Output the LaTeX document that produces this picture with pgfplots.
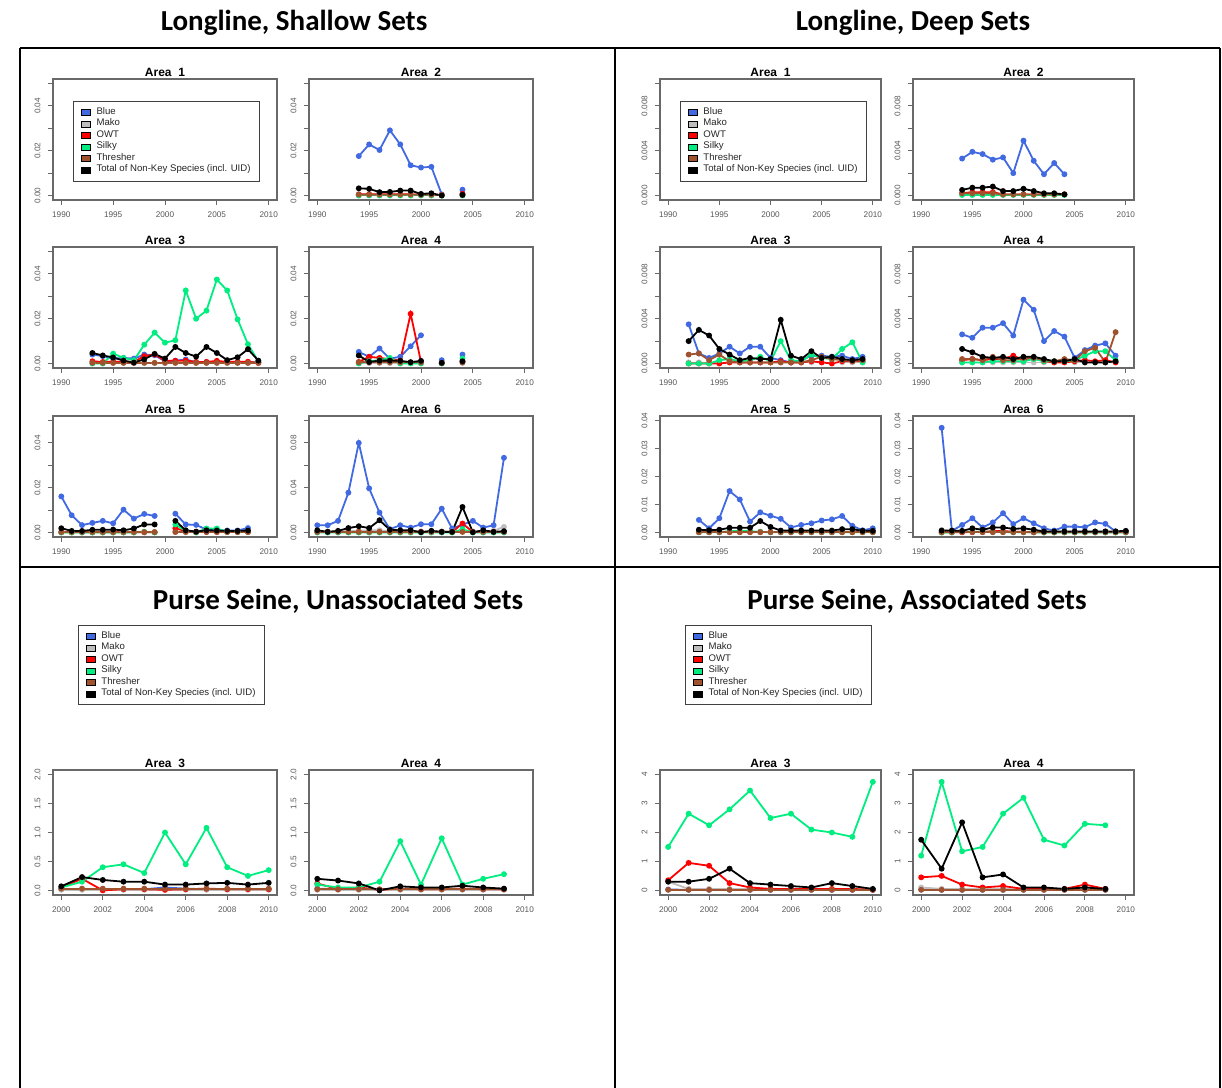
\documentclass[border=0pt]{standalone}
\usepackage{pgfplots}
\pgfplotsset{compat=1.18}
\usepackage{fontspec}
\setmainfont{Liberation Sans}
\newfontfamily\hdrfont{Carlito}
\definecolor{cBlue}{RGB}{65,105,225}
\definecolor{cMako}{RGB}{190,190,190}
\definecolor{cOWT}{RGB}{255,0,0}
\definecolor{cSilky}{RGB}{0,238,128}
\definecolor{cThr}{RGB}{160,82,45}
\definecolor{axc}{RGB}{105,105,105}
\def\u{0.5pt}
\pgfplotsset{
  rplot/.style={
    scale only axis, anchor=north west,
    width=112pt, height=60.5pt,
    axis line style={draw=axc, line width=0.8pt},
    every tick/.style={draw=axc, line width=0.45pt},
    tick align=outside, major tick length=2.5pt, tick pos=left,
    ticklabel style={font=\fontsize{4.1}{4.5}\selectfont, text=black!65},
    yticklabel style={xshift=-2.6pt, rotate=90, anchor=south, inner sep=1pt},
    xticklabel style={inner sep=1pt, yshift=-2.1pt},
    title style={at={(0.5,1)}, anchor=base, yshift=-4.6pt, inner sep=0pt, font=\bfseries\fontsize{6}{7}\selectfont},
    scaled ticks=false,
    unbounded coords=jump,
    every axis plot/.append style={line width=0.9pt, mark=*, mark size=1pt},
  },
  yrs/.style={xmin=1989.2, xmax=2010.8, xtick={1990,1995,2000,2005,2010}, xticklabels={1990,1995,2000,2005,2010}},
  ps/.style={xmin=1999.6, xmax=2010.4, xtick={2000,2002,2004,2006,2008,2010}, xticklabels={2000,2002,2004,2006,2008,2010}},
  yA/.style={ymin=-0.002, ymax=0.052, ytick={0,0.01,0.02,0.03,0.04,0.05}, yticklabels={0.00,{},0.02,{},0.04,{}}},
  yB/.style={ymin=-0.004, ymax=0.104, ytick={0,0.02,0.04,0.06,0.08,0.10}, yticklabels={0.00,{},0.04,{},0.08,{}}},
  yC/.style={ymin=-0.0004, ymax=0.0104, ytick={0,0.002,0.004,0.006,0.008,0.010}, yticklabels={0.000,{},0.004,{},0.008,{}}},
  yD/.style={ymin=-0.0016, ymax=0.0416, ytick={0,0.01,0.02,0.03,0.04}, yticklabels={0.00,0.01,0.02,0.03,0.04}},
  yE/.style={ymin=-0.08, ymax=2.08, ytick={0,0.5,1,1.5,2}, yticklabels={0.0,0.5,1.0,1.5,2.0}},
  yF/.style={ymin=-0.16, ymax=4.16, ytick={0,1,2,3,4}, yticklabels={0,1,2,3,4}},
  sB/.style={color=cBlue}, sM/.style={color=cMako}, sO/.style={color=cOWT},
  sS/.style={color=cSilky}, sT/.style={color=cThr}, sK/.style={color=black},
  rleg/.style={legend cell align=left,
    legend style={draw=black!75, line width=0.4pt, fill=white, font=\fontsize{4.8}{5}\selectfont,
      anchor=north west, inner xsep=4pt, inner ysep=2.6pt, row sep=0pt, column sep=2.6pt,
      nodes={inner sep=0.4pt, text=black!85}},
    legend image code/.code={\draw[#1, draw=black, line width=0.3pt] (2pt,-1.5pt) rectangle (6.3pt,1.5pt);},
  },
}
\newcommand{\legendentries}{%
  \addlegendimage{fill=cBlue}\addlegendentry{Blue}
  \addlegendimage{fill=cMako}\addlegendentry{Mako}
  \addlegendimage{fill=cOWT}\addlegendentry{OWT}
  \addlegendimage{fill=cSilky}\addlegendentry{Silky}
  \addlegendimage{fill=cThr}\addlegendentry{Thresher}
  \addlegendimage{fill=black}\addlegendentry{Total of Non-Key Species (incl. UID)}}
\begin{document}
\begin{tikzpicture}
\useasboundingbox (0,0) rectangle (611pt,-544pt);
% table
\draw[line width=1pt] (20*\u,-48*\u) -- (1220*\u,-48*\u);
\draw[line width=1pt] (20*\u,-567*\u) -- (1220*\u,-567*\u);
\draw[line width=1pt] (20*\u,-48*\u) -- (20*\u,-1088*\u);
\draw[line width=1pt] (615*\u,-48*\u) -- (615*\u,-1088*\u);
\draw[line width=1pt] (1220*\u,-48*\u) -- (1220*\u,-1088*\u);
\node[anchor=base, font=\hdrfont\bfseries\fontsize{14.5}{16}\selectfont, inner sep=0pt] at (294*\u,-30*\u) {Longline, Shallow Sets};
\node[anchor=base, font=\hdrfont\bfseries\fontsize{14.5}{16}\selectfont, inner sep=0pt] at (913*\u,-30*\u) {Longline, Deep Sets};
\node[anchor=base, font=\hdrfont\bfseries\fontsize{14.5}{16}\selectfont, inner sep=0pt] at (338*\u,-609*\u) {Purse Seine, Unassociated Sets};
\node[anchor=base, font=\hdrfont\bfseries\fontsize{14.5}{16}\selectfont, inner sep=0pt] at (917*\u,-609*\u) {Purse Seine, Associated Sets};

%================ Longline shallow ================
\begin{axis}[rplot, yrs, yA, at={(53*\u,-79*\u)}, title={Area\ \ 1}, rleg,
  legend style={at={(0.089,0.818)}}]
\legendentries
\end{axis}

\begin{axis}[rplot, yrs, yA, at={(309*\u,-79*\u)}, title={Area\ \ 2}]
\addplot[sB] coordinates {(1994,0.0176)(1995,0.0228)(1996,0.0203)(1997,0.0291)(1998,0.0228)(1999,0.0135)(2000,0.0125)(2001,0.0128)(2002,0.0005)(2003,nan)(2004,0.0026)};
\addplot[sM] coordinates {(1994,0.0002)(1995,0.0002)(1996,0.0002)(1997,0.0002)(1998,0.0002)(1999,0.0002)(2000,0.0002)(2001,0.0002)(2002,0.0001)(2003,nan)(2004,0.0002)};
\addplot[sO] coordinates {(1994,0.0005)(1995,0.0006)(1996,0.0005)(1997,0.0005)(1998,0.0006)(1999,0.0005)(2000,0.0004)(2001,0.0004)(2002,0.0002)(2003,nan)(2004,0.0008)};
\addplot[sS] coordinates {(1994,0)(1995,0)(1996,0)(1997,0)(1998,0)(1999,0)(2000,0)(2001,0)(2002,0)(2003,nan)(2004,0)};
\addplot[sT] coordinates {(1994,0.0004)(1995,0.0004)(1996,0.0004)(1997,0.0004)(1998,0.0004)(1999,0.0004)(2000,0.0003)(2001,0.0003)(2002,0.0002)(2003,nan)(2004,0.0003)};
\addplot[sK] coordinates {(1994,0.0032)(1995,0.0030)(1996,0.0015)(1997,0.0016)(1998,0.0022)(1999,0.0022)(2000,0.0007)(2001,0.0010)(2002,0.0000)(2003,nan)(2004,0.0003)};
\end{axis}

\begin{axis}[rplot, yrs, yA, at={(53*\u,-247*\u)}, title={Area\ \ 3}]
\addplot[sB] coordinates {(1993,0.0040)(1994,0.0033)(1995,0.0022)(1996,0.0025)(1997,0.0022)(1998,0.0040)(1999,0.0037)(2000,0.0010)(2001,0.0013)(2002,0.0018)(2003,0.0006)(2004,0.0007)(2005,0.0007)(2006,0.0005)(2007,0.0005)(2008,0.0005)(2009,0.0005)};
\addplot[sM] coordinates {(1993,0.0002)(1994,0.0002)(1995,0.0002)(1996,0.0002)(1997,0.0002)(1998,0.0002)(1999,0.0002)(2000,0.0002)(2001,0.0002)(2002,0.0002)(2003,0.0002)(2004,0.0002)(2005,0.0002)(2006,0.0002)(2007,0.0002)(2008,0.0002)(2009,0.0002)};
\addplot[sO] coordinates {(1993,0.0010)(1994,0.0007)(1995,0.0008)(1996,0.0007)(1997,0.0008)(1998,0.0033)(1999,0.0040)(2000,0.0013)(2001,0.0012)(2002,0.0013)(2003,0.0007)(2004,0.0007)(2005,0.0012)(2006,0.0007)(2007,0.0008)(2008,0.0008)(2009,0.0003)};
\addplot[sS] coordinates {(1993,0)(1994,0)(1995,0.0044)(1996,0.0025)(1997,0.0015)(1998,0.0084)(1999,0.0138)(2000,0.0093)(2001,0.0104)(2002,0.0326)(2003,0.0200)(2004,0.0236)(2005,0.0375)(2006,0.0326)(2007,0.0197)(2008,0.0086)(2009,0.0010)};
\addplot[sT] coordinates {(1993,0.0003)(1994,0.0003)(1995,0.0003)(1996,0.0003)(1997,0.0003)(1998,0.0003)(1999,0.0003)(2000,0.0003)(2001,0.0003)(2002,0.0003)(2003,0.0003)(2004,0.0003)(2005,0.0003)(2006,0.0003)(2007,0.0003)(2008,0.0003)(2009,0.0003)};
\addplot[sK] coordinates {(1993,0.0047)(1994,0.0036)(1995,0.0027)(1996,0.0013)(1997,0.0004)(1998,0.0019)(1999,0.0043)(2000,0.0022)(2001,0.0074)(2002,0.0047)(2003,0.0031)(2004,0.0074)(2005,0.0047)(2006,0.0015)(2007,0.0028)(2008,0.0064)(2009,0.0013)};
\end{axis}

\begin{axis}[rplot, yrs, yA, at={(309*\u,-247*\u)}, title={Area\ \ 4}]
\addplot[sB] coordinates {(1994,0.0052)(1995,0.0030)(1996,0.0067)(1997,0.0022)(1998,0.0030)(1999,0.0077)(2000,0.0126)(2001,nan)(2002,0.0015)(2003,nan)(2004,0.0040)};
\addplot[sM] coordinates {(1994,0.0002)(1995,0.0002)(1996,0.0002)(1997,0.0002)(1998,0.0002)(1999,0.0002)(2000,0.0002)(2001,nan)(2002,0.0001)(2003,nan)(2004,0.0002)};
\addplot[sO] coordinates {(1994,0.0007)(1995,0.0030)(1996,0.0025)(1997,0.0019)(1998,0.0013)(1999,0.0222)(2000,0.0007)(2001,nan)(2002,0.0002)(2003,nan)(2004,0.0010)};
\addplot[sS] coordinates {(1994,0)(1995,0.0010)(1996,0.0015)(1997,0.0025)(1998,0)(1999,0)(2000,0)(2001,nan)(2002,0)(2003,nan)(2004,0.0022)};
\addplot[sT] coordinates {(1994,0.0005)(1995,0.0005)(1996,0.0005)(1997,0.0005)(1998,0.0005)(1999,0.0005)(2000,0.0005)(2001,nan)(2002,0.0002)(2003,nan)(2004,0.0005)};
\addplot[sK] coordinates {(1994,0.0036)(1995,0.0007)(1996,0.0013)(1997,0.0013)(1998,0.0012)(1999,0.0006)(2000,0.0012)(2001,nan)(2002,0.0003)(2003,nan)(2004,0.0010)};
\end{axis}

\begin{axis}[rplot, yrs, yA, at={(53*\u,-416*\u)}, title={Area\ \ 5}]
\addplot[sB] coordinates {(1990,0.0161)(1991,0.0077)(1992,0.0033)(1993,0.0043)(1994,0.0052)(1995,0.0041)(1996,0.0102)(1997,0.0062)(1998,0.0083)(1999,0.0074)(2000,nan)(2001,0.0084)(2002,0.0036)(2003,0.0034)(2004,0.0013)(2005,0.0009)(2006,0.0009)(2007,0.0009)(2008,0.0020)};
\addplot[sM] coordinates {(1990,0.0002)(1991,0.0002)(1992,0.0002)(1993,0.0002)(1994,0.0002)(1995,0.0002)(1996,0.0002)(1997,0.0002)(1998,0.0002)(1999,0.0002)(2000,nan)(2001,0.0004)(2002,0.0002)(2003,0.0002)(2004,0.0002)(2005,0.0002)(2006,0.0002)(2007,0.0002)(2008,0.0002)};
\addplot[sO] coordinates {(1990,0.0001)(1991,0.0001)(1992,0.0001)(1993,0.0001)(1994,0.0001)(1995,0.0001)(1996,0.0001)(1997,0.0001)(1998,0.0001)(1999,0.0001)(2000,nan)(2001,0.0019)(2002,0.0006)(2003,0.0003)(2004,0.0003)(2005,0.0003)(2006,0.0003)(2007,0.0003)(2008,0.0003)};
\addplot[sS] coordinates {(1990,0)(1991,0)(1992,0)(1993,0)(1994,0)(1995,0)(1996,0)(1997,0)(1998,0.0003)(1999,0)(2000,nan)(2001,0.0036)(2002,0.0007)(2003,0)(2004,0.0018)(2005,0.0018)(2006,0.0003)(2007,0.0003)(2008,0.0003)};
\addplot[sT] coordinates {(1990,0.0002)(1991,0.0002)(1992,0.0002)(1993,0.0002)(1994,0.0002)(1995,0.0002)(1996,0.0002)(1997,0.0002)(1998,0.0002)(1999,0.0002)(2000,nan)(2001,0.0002)(2002,0.0002)(2003,0.0002)(2004,0.0002)(2005,0.0002)(2006,0.0002)(2007,0.0002)(2008,0.0002)};
\addplot[sK] coordinates {(1990,0.0019)(1991,0.0007)(1992,0.0007)(1993,0.0012)(1994,0.0012)(1995,0.0013)(1996,0.0010)(1997,0.0018)(1998,0.0036)(1999,0.0036)(2000,nan)(2001,0.0052)(2002,0.0010)(2003,0.0004)(2004,0.0010)(2005,0.0009)(2006,0.0007)(2007,0.0007)(2008,0.0009)};
\end{axis}

\begin{axis}[rplot, yrs, yB, at={(309*\u,-416*\u)}, title={Area\ \ 6}]
\addplot[sB] coordinates {(1990,0.0065)(1991,0.0065)(1992,0.0104)(1993,0.0356)(1994,0.0800)(1995,0.0394)(1996,0.0178)(1997,0.0030)(1998,0.0065)(1999,0.0044)(2000,0.0074)(2001,0.0074)(2002,0.0213)(2003,0.0036)(2004,0.0070)(2005,0.0104)(2006,0.0044)(2007,0.0065)(2008,0.0667)};
\addplot[sM] coordinates {(1990,0.0010)(1991,0.0010)(1992,0.0010)(1993,0.0012)(1994,0.0015)(1995,0.0020)(1996,0.0020)(1997,0.0010)(1998,0.0010)(1999,0.0010)(2000,0.0010)(2001,0.0010)(2002,0.0010)(2003,0.0010)(2004,0.0015)(2005,0.0010)(2006,0.0010)(2007,0.0015)(2008,0.0050)};
\addplot[sO] coordinates {(1990,0.0005)(1991,0.0005)(1992,0.0005)(1993,0.0005)(1994,0.0005)(1995,0.0005)(1996,0.0005)(1997,0.0005)(1998,0.0005)(1999,0.0005)(2000,0.0005)(2001,0.0005)(2002,0.0005)(2003,0.0005)(2004,0.0080)(2005,0.0005)(2006,0.0005)(2007,0.0005)(2008,0.0005)};
\addplot[sS] coordinates {(1990,0)(1991,0)(1992,0)(1993,0)(1994,0)(1995,0)(1996,0)(1997,0)(1998,0)(1999,0)(2000,0)(2001,0)(2002,0)(2003,0)(2004,0.0030)(2005,0)(2006,0)(2007,0)(2008,0)};
\addplot[sT] coordinates {(1990,0.0005)(1991,0.0005)(1992,0.0005)(1993,0.0005)(1994,0.0005)(1995,0.0005)(1996,0.0005)(1997,0.0005)(1998,0.0005)(1999,0.0005)(2000,0.0005)(2001,0.0005)(2002,0.0005)(2003,0.0005)(2004,0.0005)(2005,0.0005)(2006,0.0005)(2007,0.0005)(2008,0.0005)};
\addplot[sK] coordinates {(1990,0.0020)(1991,0.0006)(1992,0.0015)(1993,0.0040)(1994,0.0056)(1995,0.0040)(1996,0.0110)(1997,0.0024)(1998,0.0020)(1999,0.0020)(2000,0.0003)(2001,0.0015)(2002,0.0006)(2003,0.0006)(2004,0.0228)(2005,0.0003)(2006,0.0020)(2007,0.0006)(2008,0.0012)};
\end{axis}

%================ Longline deep ================
\begin{axis}[rplot, yrs, yC, width=110.5pt, at={(660*\u,-79*\u)}, title={Area\ \ 1}, rleg,
  legend style={at={(0.09,0.818)}}]
\legendentries
\end{axis}

\begin{axis}[rplot, yrs, yC, width=110.5pt, at={(913*\u,-79*\u)}, title={Area\ \ 2}]
\addplot[sB] coordinates {(1994,0.0033)(1995,0.0039)(1996,0.0037)(1997,0.0032)(1998,0.0034)(1999,0.0020)(2000,0.0049)(2001,0.0031)(2002,0.0019)(2003,0.0029)(2004,0.0019)};
\addplot[sM] coordinates {(1994,0.0001)(1995,0.0001)(1996,0.0001)(1997,0.0001)(1998,0.0001)(1999,0.0001)(2000,0.0001)(2001,0.0001)(2002,0.0001)(2003,0.0001)(2004,0.0001)};
\addplot[sO] coordinates {(1994,0.0002)(1995,0.0003)(1996,0.0003)(1997,0.0003)(1998,0.0001)(1999,0.0001)(2000,0.0001)(2001,0.0001)(2002,0.0001)(2003,0.0001)(2004,0.0001)};
\addplot[sS] coordinates {(1994,0.00005)(1995,0.00005)(1996,0.00005)(1997,0.00005)(1998,0.00005)(1999,0.00005)(2000,0.00005)(2001,0.00005)(2002,0.00005)(2003,0.00005)(2004,0.00005)};
\addplot[sT] coordinates {(1994,0.0002)(1995,0.0002)(1996,0.0002)(1997,0.0002)(1998,0.0001)(1999,0.0001)(2000,0.0001)(2001,0.0001)(2002,0.0001)(2003,0.0001)(2004,0.0001)};
\addplot[sK] coordinates {(1994,0.0005)(1995,0.0007)(1996,0.0007)(1997,0.0008)(1998,0.0004)(1999,0.0004)(2000,0.0006)(2001,0.0004)(2002,0.0002)(2003,0.0002)(2004,0.0001)};
\end{axis}

\begin{axis}[rplot, yrs, yC, width=110.5pt, at={(660*\u,-247*\u)}, title={Area\ \ 3}]
\addplot[sB] coordinates {(1992,0.0035)(1993,0.0009)(1994,0.0005)(1995,0.0009)(1996,0.0015)(1997,0.0009)(1998,0.0015)(1999,0.0015)(2000,0.0005)(2001,0.0003)(2002,0.0001)(2003,0.0003)(2004,0.0007)(2005,0.0007)(2006,0.0006)(2007,0.0007)(2008,0.0004)(2009,0.0006)};
\addplot[sM] coordinates {(1992,0.0001)(1993,0.0001)(1994,0.0001)(1995,0.0001)(1996,0.0001)(1997,0.0001)(1998,0.0001)(1999,0.0001)(2000,0.0001)(2001,0.0001)(2002,0.0001)(2003,0.0001)(2004,0.0001)(2005,0.0001)(2006,0.0001)(2007,0.0001)(2008,0.0001)(2009,0.0001)};
\addplot[sO] coordinates {(1992,0)(1993,0)(1994,0)(1995,0)(1996,0.0001)(1997,0.0001)(1998,0.0001)(1999,0.0001)(2000,0.0001)(2001,0.0002)(2002,0.0001)(2003,0.0001)(2004,0.0002)(2005,0.0001)(2006,0)(2007,0.0002)(2008,0.0002)(2009,0.0002)};
\addplot[sS] coordinates {(1992,0)(1993,0)(1994,0)(1995,0.0003)(1996,0.0004)(1997,0.0002)(1998,0.0003)(1999,0.0006)(2000,0.0002)(2001,0.0020)(2002,0.0003)(2003,0.0002)(2004,0.0008)(2005,0.0005)(2006,0.0004)(2007,0.0013)(2008,0.0019)(2009,0.0001)};
\addplot[sT] coordinates {(1992,0.0008)(1993,0.0009)(1994,0.0003)(1995,0.0008)(1996,0.0002)(1997,0.0001)(1998,0.0001)(1999,0.0001)(2000,0.0001)(2001,0.0001)(2002,0.0001)(2003,0.0001)(2004,0.0003)(2005,0.0006)(2006,0.0004)(2007,0.0003)(2008,0.0002)(2009,0.0003)};
\addplot[sK] coordinates {(1992,0.0020)(1993,0.0030)(1994,0.0025)(1995,0.0013)(1996,0.0008)(1997,0.0003)(1998,0.0005)(1999,0.0004)(2000,0.0004)(2001,0.0039)(2002,0.0007)(2003,0.0004)(2004,0.0011)(2005,0.0005)(2006,0.0006)(2007,0.0004)(2008,0.0003)(2009,0.0004)};
\end{axis}

\begin{axis}[rplot, yrs, yC, width=110.5pt, at={(913*\u,-247*\u)}, title={Area\ \ 4}]
\addplot[sB] coordinates {(1994,0.0026)(1995,0.0023)(1996,0.0032)(1997,0.0032)(1998,0.0036)(1999,0.0025)(2000,0.0057)(2001,0.0048)(2002,0.0020)(2003,0.0029)(2004,0.0024)(2005,0.0005)(2006,0.0012)(2007,0.0016)(2008,0.0018)(2009,0.0007)};
\addplot[sM] coordinates {(1994,0.0001)(1995,0.0001)(1996,0.0001)(1997,0.0001)(1998,0.0001)(1999,0.0001)(2000,0.0001)(2001,0.0001)(2002,0.0001)(2003,0.0001)(2004,0.0001)(2005,0.0001)(2006,0.0001)(2007,0.0001)(2008,0.0001)(2009,0.0001)};
\addplot[sO] coordinates {(1994,0.0003)(1995,0.0004)(1996,0.0003)(1997,0.0004)(1998,0.0004)(1999,0.0007)(2000,0.0003)(2001,0.0005)(2002,0.0002)(2003,0.0001)(2004,0.0001)(2005,0.0002)(2006,0.0003)(2007,0.0002)(2008,0.0003)(2009,0.0001)};
\addplot[sS] coordinates {(1994,0.0001)(1995,0.0001)(1996,0.0001)(1997,0.0002)(1998,0.0002)(1999,0.0002)(2000,0.0002)(2001,0.0004)(2002,0.0002)(2003,0.0002)(2004,0.0002)(2005,0.0003)(2006,0.0007)(2007,0.0011)(2008,0.0011)(2009,0.0003)};
\addplot[sT] coordinates {(1994,0.0004)(1995,0.0004)(1996,0.0003)(1997,0.0006)(1998,0.0003)(1999,0.0003)(2000,0.0005)(2001,0.0005)(2002,0.0003)(2003,0.0002)(2004,0.0004)(2005,0.0003)(2006,0.0011)(2007,0.0014)(2008,0.0001)(2009,0.0028)};
\addplot[sK] coordinates {(1994,0.0013)(1995,0.0010)(1996,0.0006)(1997,0.0005)(1998,0.0006)(1999,0.0004)(2000,0.0006)(2001,0.0006)(2002,0.0004)(2003,0.0002)(2004,0.0002)(2005,0.0004)(2006,0.0001)(2007,0.0001)(2008,0.0001)(2009,0.0002)};
\end{axis}

\begin{axis}[rplot, yrs, yD, width=110.5pt, at={(660*\u,-416*\u)}, title={Area\ \ 5}]
\addplot[sB] coordinates {(1993,0.0045)(1994,0.0015)(1995,0.0051)(1996,0.0148)(1997,0.0118)(1998,0.0039)(1999,0.0072)(2000,0.0060)(2001,0.0049)(2002,0.0018)(2003,0.0027)(2004,0.0033)(2005,0.0043)(2006,0.0047)(2007,0.0059)(2008,0.0024)(2009,0.0008)(2010,0.0015)};
\addplot[sM] coordinates {(1993,0.0003)(1994,0.0003)(1995,0.0003)(1996,0.0003)(1997,0.0003)(1998,0.0003)(1999,0.0003)(2000,0.0003)(2001,0.0003)(2002,0.0003)(2003,0.0003)(2004,0.0003)(2005,0.0003)(2006,0.0003)(2007,0.0003)(2008,0.0003)(2009,0.0003)(2010,0.0003)};
\addplot[sO] coordinates {(1993,0.0002)(1994,0.0002)(1995,0.0002)(1996,0.0002)(1997,0.0002)(1998,0.0002)(1999,0.0002)(2000,0.0002)(2001,0.0002)(2002,0.0002)(2003,0.0002)(2004,0.0002)(2005,0.0002)(2006,0.0002)(2007,0.0002)(2008,0.0002)(2009,0.0002)(2010,0.0002)};
\addplot[sS] coordinates {(1993,0.0001)(1994,0.0001)(1995,0.0001)(1996,0.0005)(1997,0.0005)(1998,0.0005)(1999,0.0002)(2000,0.0001)(2001,0.0001)(2002,0.0001)(2003,0.0001)(2004,0.0001)(2005,0.0001)(2006,0.0001)(2007,0.0001)(2008,0.0001)(2009,0.0001)(2010,0.0001)};
\addplot[sT] coordinates {(1993,0.0001)(1994,0.0001)(1995,0.0001)(1996,0.0001)(1997,0.0001)(1998,0.0001)(1999,0.0001)(2000,0.0001)(2001,0.0001)(2002,0.0001)(2003,0.0001)(2004,0.0001)(2005,0.0001)(2006,0.0001)(2007,0.0001)(2008,0.0001)(2009,0.0001)(2010,0.0001)};
\addplot[sK] coordinates {(1993,0.0010)(1994,0.0008)(1995,0.0010)(1996,0.0017)(1997,0.0017)(1998,0.0017)(1999,0.0041)(2000,0.0020)(2001,0.0007)(2002,0.0007)(2003,0.0007)(2004,0.0007)(2005,0.0007)(2006,0.0007)(2007,0.0012)(2008,0.0012)(2009,0.0006)(2010,0.0006)};
\end{axis}

\begin{axis}[rplot, yrs, yD, width=110.5pt, at={(913*\u,-416*\u)}, title={Area\ \ 6}]
\addplot[sB] coordinates {(1992,0.0374)(1993,0.0006)(1994,0.0027)(1995,0.0051)(1996,0.0018)(1997,0.0036)(1998,0.0069)(1999,0.0030)(2000,0.0051)(2001,0.0033)(2002,0.0015)(2003,0.0007)(2004,0.0021)(2005,0.0021)(2006,0.0019)(2007,0.0036)(2008,0.0031)(2009,0.0004)(2010,0.0004)};
\addplot[sM] coordinates {(1992,0.0009)(1993,0.0003)(1994,0.0003)(1995,0.0003)(1996,0.0003)(1997,0.0003)(1998,0.0003)(1999,0.0003)(2000,0.0003)(2001,0.0003)(2002,0.0003)(2003,0.0003)(2004,0.0003)(2005,0.0003)(2006,0.0003)(2007,0.0003)(2008,0.0003)(2009,0.0003)(2010,0.0003)};
\addplot[sO] coordinates {(1992,0.0001)(1993,0.0001)(1994,0.0001)(1995,0.0002)(1996,0.0002)(1997,0.0005)(1998,0.0005)(1999,0.0003)(2000,0.0002)(2001,0.0001)(2002,0.0001)(2003,0.0001)(2004,0.0001)(2005,0.0001)(2006,0.0001)(2007,0.0001)(2008,0.0001)(2009,0.0001)(2010,0.0001)};
\addplot[sS] coordinates {(1992,0)(1993,0)(1994,0.0003)(1995,0.0003)(1996,0.0003)(1997,0.0002)(1998,0.0002)(1999,0.0001)(2000,0.0001)(2001,0.0001)(2002,0)(2003,0)(2004,0)(2005,0)(2006,0)(2007,0)(2008,0)(2009,0)(2010,0)};
\addplot[sT] coordinates {(1992,0.0001)(1993,0.0001)(1994,0.0001)(1995,0.0001)(1996,0.0001)(1997,0.0001)(1998,0.0001)(1999,0.0001)(2000,0.0001)(2001,0.0001)(2002,0.0001)(2003,0.0001)(2004,0.0001)(2005,0.0001)(2006,0.0001)(2007,0.0001)(2008,0.0001)(2009,0.0001)(2010,0.0001)};
\addplot[sK] coordinates {(1992,0.0007)(1993,0.0007)(1994,0.0006)(1995,0.0015)(1996,0.0010)(1997,0.0018)(1998,0.0018)(1999,0.0013)(2000,0.0015)(2001,0.0010)(2002,0.0004)(2003,0.0004)(2004,0.0004)(2005,0.0004)(2006,0.0004)(2007,0.0004)(2008,0.0004)(2009,0.0004)(2010,0.0006)};
\end{axis}

%================ Purse seine unassociated ================
\begin{axis}[rplot, ps, yE, height=62.5pt, at={(53*\u,-770*\u)}, title={Area\ \ 3}, rleg,
  legend style={at={(0.111,2.16)}}]
\legendentries
\addplot[sB,forget plot] coordinates {(2000,0.02)(2001,0.02)(2002,0.02)(2003,0.02)(2004,0.02)(2005,0.05)(2006,0.03)(2007,0.02)(2008,0.02)(2009,0.02)(2010,0.02)};
\addplot[sM,forget plot] coordinates {(2000,0.01)(2001,0.01)(2002,0.01)(2003,0.01)(2004,0.01)(2005,0.01)(2006,0.01)(2007,0.01)(2008,0.01)(2009,0.01)(2010,0.01)};
\addplot[sO,forget plot] coordinates {(2000,0.05)(2001,0.20)(2002,0.00)(2003,0.02)(2004,0.02)(2005,0.01)(2006,0.02)(2007,0.03)(2008,0.02)(2009,0.02)(2010,0.02)};
\addplot[sS,forget plot] coordinates {(2000,0.05)(2001,0.15)(2002,0.40)(2003,0.45)(2004,0.30)(2005,1.00)(2006,0.45)(2007,1.08)(2008,0.40)(2009,0.25)(2010,0.35)};
\addplot[sT,forget plot] coordinates {(2000,0.03)(2001,0.03)(2002,0.03)(2003,0.03)(2004,0.03)(2005,0.03)(2006,0.03)(2007,0.03)(2008,0.03)(2009,0.03)(2010,0.03)};
\addplot[sK,forget plot] coordinates {(2000,0.07)(2001,0.23)(2002,0.18)(2003,0.15)(2004,0.15)(2005,0.10)(2006,0.10)(2007,0.12)(2008,0.13)(2009,0.10)(2010,0.13)};
\end{axis}

\begin{axis}[rplot, ps, yE, height=62.5pt, at={(309*\u,-770*\u)}, title={Area\ \ 4}]
\addplot[sB] coordinates {(2000,0.03)(2001,0.02)(2002,0.02)(2003,0.01)(2004,0.02)(2005,0.02)(2006,0.02)(2007,0.02)(2008,0.02)(2009,0.02)};
\addplot[sM] coordinates {(2000,0.01)(2001,0.01)(2002,0.01)(2003,0.01)(2004,0.01)(2005,0.01)(2006,0.01)(2007,0.01)(2008,0.01)(2009,0.01)};
\addplot[sO] coordinates {(2000,0.12)(2001,0.02)(2002,0.05)(2003,0.01)(2004,0.03)(2005,0.02)(2006,0.02)(2007,0.03)(2008,0.02)(2009,0.02)};
\addplot[sS] coordinates {(2000,0.10)(2001,0.05)(2002,0.05)(2003,0.15)(2004,0.85)(2005,0.10)(2006,0.90)(2007,0.10)(2008,0.20)(2009,0.28)};
\addplot[sT] coordinates {(2000,0.02)(2001,0.02)(2002,0.02)(2003,0.02)(2004,0.02)(2005,0.02)(2006,0.02)(2007,0.02)(2008,0.02)(2009,0.02)};
\addplot[sK] coordinates {(2000,0.20)(2001,0.17)(2002,0.12)(2003,0.00)(2004,0.07)(2005,0.05)(2006,0.05)(2007,0.08)(2008,0.05)(2009,0.03)};
\end{axis}

%================ Purse seine associated ================
\begin{axis}[rplot, ps, yF, width=110.5pt, height=62.5pt, at={(660*\u,-770*\u)}, title={Area\ \ 3}, rleg,
  legend style={at={(0.113,2.16)}}]
\legendentries
\addplot[sB,forget plot] coordinates {(2000,0.03)(2001,0.02)(2002,0.02)(2003,0.02)(2004,0.02)(2005,0.02)(2006,0.02)(2007,0.02)(2008,0.02)(2009,0.02)(2010,0.02)};
\addplot[sM,forget plot] coordinates {(2000,0.30)(2001,0.05)(2002,0.05)(2003,0.05)(2004,0.05)(2005,0.03)(2006,0.03)(2007,0.03)(2008,0.03)(2009,0.03)(2010,0.03)};
\addplot[sO,forget plot] coordinates {(2000,0.35)(2001,0.95)(2002,0.85)(2003,0.25)(2004,0.10)(2005,0.05)(2006,0.05)(2007,0.05)(2008,0.05)(2009,0.05)(2010,0.02)};
\addplot[sS,forget plot] coordinates {(2000,1.50)(2001,2.65)(2002,2.25)(2003,2.80)(2004,3.45)(2005,2.50)(2006,2.65)(2007,2.10)(2008,2.00)(2009,1.85)(2010,3.75)};
\addplot[sT,forget plot] coordinates {(2000,0.02)(2001,0.02)(2002,0.02)(2003,0.02)(2004,0.02)(2005,0.02)(2006,0.02)(2007,0.02)(2008,0.02)(2009,0.02)(2010,0.02)};
\addplot[sK,forget plot] coordinates {(2000,0.30)(2001,0.30)(2002,0.40)(2003,0.75)(2004,0.25)(2005,0.20)(2006,0.15)(2007,0.10)(2008,0.25)(2009,0.15)(2010,0.05)};
\end{axis}

\begin{axis}[rplot, ps, yF, width=110.5pt, height=62.5pt, at={(913*\u,-770*\u)}, title={Area\ \ 4}]
\addplot[sB] coordinates {(2000,0.03)(2001,0.02)(2002,0.02)(2003,0.02)(2004,0.02)(2005,0.02)(2006,0.02)(2007,0.02)(2008,0.02)(2009,0.02)};
\addplot[sM] coordinates {(2000,0.10)(2001,0.05)(2002,0.05)(2003,0.05)(2004,0.05)(2005,0.03)(2006,0.03)(2007,0.03)(2008,0.03)(2009,0.03)};
\addplot[sO] coordinates {(2000,0.45)(2001,0.50)(2002,0.20)(2003,0.10)(2004,0.15)(2005,0.05)(2006,0.05)(2007,0.05)(2008,0.20)(2009,0.05)};
\addplot[sS] coordinates {(2000,1.20)(2001,3.75)(2002,1.35)(2003,1.50)(2004,2.65)(2005,3.20)(2006,1.75)(2007,1.55)(2008,2.30)(2009,2.25)};
\addplot[sT] coordinates {(2000,0.02)(2001,0.02)(2002,0.02)(2003,0.02)(2004,0.02)(2005,0.02)(2006,0.02)(2007,0.02)(2008,0.02)(2009,0.02)};
\addplot[sK] coordinates {(2000,1.75)(2001,0.75)(2002,2.35)(2003,0.45)(2004,0.55)(2005,0.10)(2006,0.10)(2007,0.05)(2008,0.10)(2009,0.05)};
\end{axis}
\end{tikzpicture}
\end{document}
